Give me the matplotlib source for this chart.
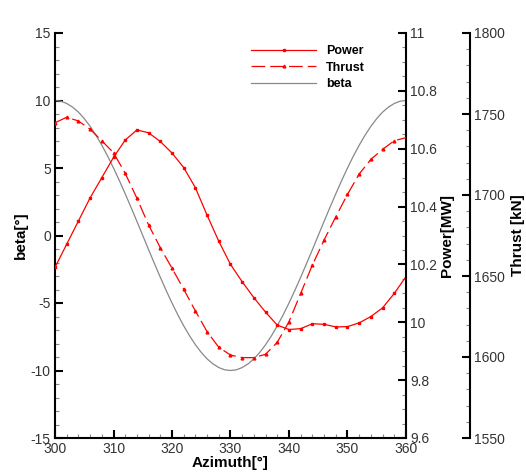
import numpy as np
import matplotlib
matplotlib.use('Agg')
import matplotlib.pyplot as plt
from matplotlib.ticker import MultipleLocator, FormatStrFormatter

plt.rcParams['font.family'] = ['Liberation Sans', 'DejaVu Sans']
plt.rcParams['axes.unicode_minus'] = False

# Azimuth angles (deg), one value every 2 degrees
azimuth = np.arange(300, 361, 2)

# Power [MW]
power = [10.19, 10.27, 10.35, 10.43, 10.50, 10.57, 10.63, 10.665, 10.655, 10.625,
         10.585, 10.535, 10.465, 10.37, 10.28, 10.20, 10.14, 10.085, 10.035, 9.99,
         9.975, 9.978, 9.995, 9.993, 9.984, 9.985, 9.998, 10.02, 10.05, 10.10, 10.158]

# Thrust [kN]
thrust = [1744.6, 1748.0, 1745.7, 1740.6, 1733.5, 1726.1, 1713.4, 1698.0, 1681.5, 1667.5,
          1654.8, 1641.8, 1628.4, 1615.6, 1606.0, 1601.2, 1599.6, 1599.6, 1601.7, 1609.1,
          1621.8, 1639.3, 1656.8, 1672.2, 1686.6, 1700.4, 1713.0, 1722.0, 1728.2, 1733.5, 1735.4]

# Pitch angle beta [deg], every degree (smooth gray curve)
azimuth_beta = np.arange(300, 361, 1)
beta = [10.0, 9.95, 9.78, 9.51, 9.14, 8.66, 8.09, 7.43, 6.69, 5.88,
        5.0, 4.07, 3.09, 2.08, 1.05, 0.0, -1.05, -2.08, -3.09, -4.07,
        -5.0, -5.88, -6.69, -7.43, -8.09, -8.66, -9.14, -9.51, -9.78, -9.95,
        -10.0, -9.95, -9.78, -9.51, -9.14, -8.66, -8.09, -7.43, -6.69, -5.88,
        -5.0, -4.07, -3.09, -2.08, -1.05, 0.0, 1.05, 2.08, 3.09, 4.07,
        5.0, 5.88, 6.69, 7.43, 8.09, 8.66, 9.14, 9.51, 9.78, 9.95, 10.0]

fig = plt.figure(figsize=(5.26, 4.74), dpi=100)
ax = fig.add_axes([55/526, 36/474, 351/526, 405/474])
ax2 = ax.twinx()
ax3 = ax.twinx()

lb, = ax.plot(azimuth_beta, beta, color='#888888', lw=0.9, label='beta')
lp, = ax2.plot(azimuth, power, color='red', lw=0.9, marker='s', markersize=2,
               markevery=slice(0, -1), label='Power')
lt, = ax3.plot(azimuth, thrust, color='red', lw=0.9, dashes=(11, 4), marker='^',
               markersize=2, markevery=slice(0, -1), label='Thrust')

ax.set_xlim(300, 360)
ax.set_ylim(-15, 15)
ax2.set_ylim(9.6, 11)
ax3.set_ylim(1550, 1800)

for a in (ax, ax2, ax3):
    a.spines['top'].set_visible(False)
ax.spines['right'].set_visible(False)
ax2.spines['left'].set_visible(False)
ax2.spines['bottom'].set_visible(False)
ax3.spines['left'].set_visible(False)
ax3.spines['bottom'].set_visible(False)
ax3.spines['right'].set_position(('axes', 1 + 64/351))
for a in (ax, ax2, ax3):
    for s in a.spines.values():
        s.set_linewidth(1.5)

ax.xaxis.set_major_locator(MultipleLocator(10))
ax.xaxis.set_minor_locator(MultipleLocator(2))
ax.yaxis.set_major_locator(MultipleLocator(5))
ax.yaxis.set_minor_locator(MultipleLocator(1))
ax2.yaxis.set_major_locator(MultipleLocator(0.2))
ax2.yaxis.set_minor_locator(MultipleLocator(0.05))
ax3.yaxis.set_major_locator(MultipleLocator(50))
ax3.yaxis.set_minor_locator(MultipleLocator(10))
ax.yaxis.set_major_formatter(FormatStrFormatter('%g'))
ax2.yaxis.set_major_formatter(FormatStrFormatter('%g'))

for a in (ax, ax2, ax3):
    a.tick_params(which='major', direction='in', length=6, width=1.5,
                  labelsize=10, labelcolor='#333333', pad=3)
    a.tick_params(which='minor', direction='in', length=3, width=0.8, color='#888888')

ax.set_xlabel('Azimuth[°]', fontsize=11, fontweight='bold', labelpad=0)
ax.set_ylabel('beta[°]', fontsize=11, fontweight='bold', labelpad=2)
ax2.set_ylabel('Power[MW]', fontsize=11, fontweight='bold', labelpad=2)
ax3.set_ylabel('Thrust [kN]', fontsize=11, fontweight='bold', labelpad=4)

leg = ax3.legend(handles=[lp, lt, lb], loc='upper left', bbox_to_anchor=(240/526, 440/474),
                 bbox_transform=fig.transFigure, frameon=False, numpoints=1,
                 handlelength=5.2, handletextpad=0.8, labelspacing=0.35,
                 prop={'weight': 'bold', 'size': 9})

fig.savefig('out.png', dpi=100)
